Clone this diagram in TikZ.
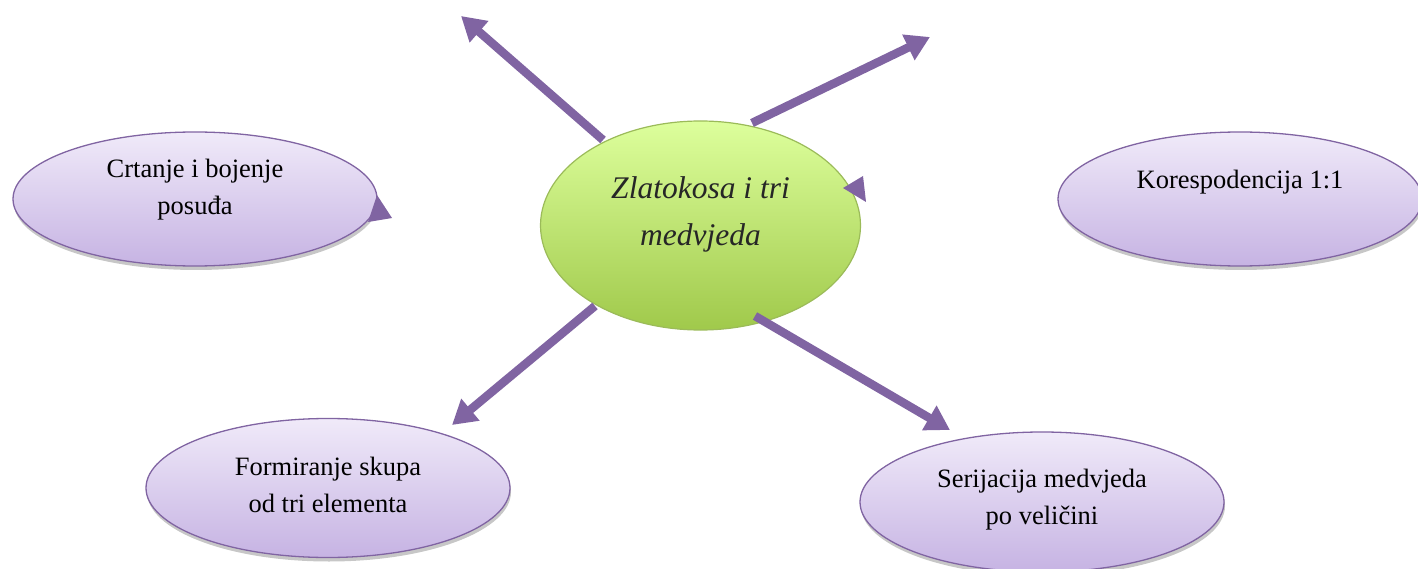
\documentclass[tikz,border=0pt]{standalone}
\usepackage{fontspec}
\setmainfont{Liberation Serif}
\usetikzlibrary{shapes.geometric,arrows.meta,shadows}
\definecolor{arrowpurple}{HTML}{8064A2}
\definecolor{lilacTop}{HTML}{F0EAF9}
\definecolor{lilacBot}{HTML}{C6B3E3}
\definecolor{greenTop}{HTML}{DDFF9C}
\definecolor{greenBot}{HTML}{A0C94B}
\definecolor{greenEdge}{HTML}{9BBB59}
\tikzset{
  bubble/.style={ellipse, draw=arrowpurple, line width=1.3pt, top color=lilacTop, bottom color=lilacBot,
    inner sep=0pt, minimum width=364pt, minimum height=134pt,
    drop shadow={shadow xshift=1pt, shadow yshift=-4pt, opacity=0.22, fill=black}},
  hub/.style={ellipse, draw=greenEdge, line width=1.2pt, top color=greenTop, bottom color=greenBot,
    inner sep=0pt, minimum width=320pt, minimum height=209pt},
  btext/.style={align=center, font=\fontsize{26.5}{37}\selectfont, text=black},
  htext/.style={align=center, font=\fontsize{31.5}{47}\selectfont\itshape, text=black!85},
  arr/.style={draw=arrowpurple, line width=8.5pt, -{Triangle[length=24pt,width=27pt]}},
  stub/.style={fill=arrowpurple}
}
\begin{document}
\begin{tikzpicture}[x=1pt,y=-1pt]
\useasboundingbox (0,0) rectangle (1418,569);
% ellipses
\node[bubble] (crt) at (195,199) {};
\node[bubble] (kor) at (1240,199) {};
\node[bubble, minimum height=139pt] (form) at (328,488) {};
\node[bubble, minimum height=140pt] (ser) at (1042,502) {};
\node[hub] (hub) at (700.5,225.5) {};
% texts
\node[btext] (crt-t) at ([yshift=9pt]crt.center) {Crtanje i bojenje\\posuđa};
\node[btext] (kor-t) at ([yshift=17pt]kor.center) {Korespodencija 1:1};
\node[btext] (form-t) at ([yshift=3pt]form.center) {Formiranje skupa\\od tri elementa};
\node[btext] (ser-t) at ([yshift=2pt]ser.center) {Serijacija medvjeda\\po veličini};
\node[htext] (hub-t) at ([yshift=11pt]hub.center) {Zlatokosa i tri\\medvjeda};
% arrow endpoints
\coordinate (a1s) at (603,140);
\coordinate (a1e) at (461,16);
\coordinate (a2s) at (752,123);
\coordinate (a2e) at (930,37);
\coordinate (a5s) at (595,306);
\coordinate (a5e) at (452,425);
\coordinate (a6s) at (755,316);
\coordinate (a6e) at (950,430);
\draw[arr] (a1s) -- (a1e);
\draw[arr] (a2s) -- (a2e);
\draw[arr] (a5s) -- (a5e);
\draw[arr] (a6s) -- (a6e);
% stray arrowheads
\coordinate (t3a) at (843,188);
\coordinate (t3b) at (863,176);
\coordinate (t3c) at (866,202);
\fill[stub] (t3a) -- (t3b) -- (t3c) -- cycle;
\coordinate (t4a) at (392,218);
\coordinate (t4b) at (377,195);
\coordinate (t4c) at (368,222);
\fill[stub] (t4a) -- (t4b) -- (t4c) -- cycle;
\end{tikzpicture}
\end{document}
